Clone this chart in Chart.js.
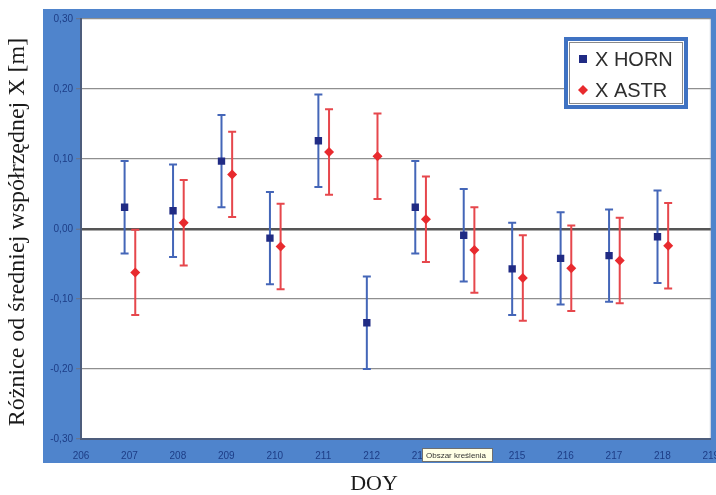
<!DOCTYPE html>
<html>
<head>
<meta charset="utf-8">
<script src="https://cdn.jsdelivr.net/npm/chart.js@4/dist/chart.umd.min.js"></script>
<style>
  html, body { margin: 0; padding: 0; background: #ffffff; }
  #wrap { width: 716px; height: 495px; }
</style>
</head>
<body>
<div id="wrap"><canvas id="c" width="716" height="495"></canvas></div>
<script>
// Day of year for each observation session
const doy = [207, 208, 209, 210, 211, 212, 213, 214, 215, 216, 217, 218];

// Differences from the mean X coordinate [m]
const hornValues = [0.031, 0.026, 0.097, -0.013, 0.126, -0.134, 0.031, -0.009, -0.057, -0.042, -0.038, -0.011];
const hornErrors = [0.066, 0.066, 0.066, 0.066, 0.066, 0.066, 0.066, 0.066, 0.066, 0.066, 0.066, 0.066];

const astrValues = [-0.062, 0.009, 0.078, -0.025, 0.110, 0.104, 0.014, -0.030, -0.070, -0.056, -0.045, -0.024];
const astrErrors = [0.061, 0.061, 0.061, 0.061, 0.061, 0.061, 0.061, 0.061, 0.061, 0.061, 0.061, 0.061];

// Axis ticks
const xTicks = [206, 207, 208, 209, 210, 211, 212, 213, 214, 215, 216, 217, 218, 219];
const yTicks = [0.30, 0.20, 0.10, 0.00, -0.10, -0.20, -0.30];

const seriesNames = ['X HORN', 'X ASTR'];
const xTitle = 'DOY';
const yTitle = 'Różnice od średniej współrzędnej X [m]';
const hoverNote = 'Obszar kreślenia';

// the two series are drawn slightly apart on each day
const HORN_SHIFT = -0.1;
const ASTR_SHIFT = 0.12;

const FRAME_BLUE = '#4f84cc';
const TICK_TEXT = '#1d3d86';

function points(values, errors, shift) {
  return values.map((v, i) => ({ x: doy[i] + shift, y: v, err: errors[i] }));
}

// Blue frame, white plotting area, axis titles
const framePlugin = {
  id: 'frame',
  beforeDraw(chart) {
    const { ctx, chartArea: a } = chart;
    ctx.save();
    ctx.fillStyle = FRAME_BLUE;
    ctx.fillRect(43, 9, chart.width - 43, 454);
    ctx.fillStyle = '#ffffff';
    ctx.fillRect(a.left, a.top, a.right - a.left, a.bottom - a.top);
    ctx.strokeStyle = '#c8cfdc';
    ctx.lineWidth = 1;
    ctx.beginPath();
    ctx.moveTo(a.right - 0.5, a.top);
    ctx.lineTo(a.right - 0.5, a.bottom);
    ctx.stroke();
    ctx.restore();
  },
  afterDraw(chart) {
    const { ctx } = chart;
    ctx.save();
    ctx.fillStyle = '#1a1a1a';
    ctx.textAlign = 'center';
    ctx.textBaseline = 'middle';
    ctx.font = '22px "Liberation Serif", "DejaVu Serif", serif';
    ctx.fillText(xTitle, 374, 484);
    ctx.font = '24px "Liberation Serif", "DejaVu Serif", serif';
    ctx.translate(18, 232);
    ctx.rotate(-Math.PI / 2);
    ctx.fillText(yTitle, 0, 0);
    ctx.restore();

    // small hover note box over the x labels
    ctx.save();
    const bx = 422, by = 448, bw = 71, bh = 14;
    ctx.fillStyle = '#ffffe6';
    ctx.fillRect(bx, by, bw, bh);
    ctx.strokeStyle = '#6f6f6f';
    ctx.lineWidth = 1;
    ctx.strokeRect(bx + 0.5, by + 0.5, bw - 1, bh - 1);
    ctx.fillStyle = '#333333';
    ctx.font = '8px "Liberation Sans", Arial, sans-serif';
    ctx.textAlign = 'left';
    ctx.textBaseline = 'middle';
    ctx.fillText(hoverNote, bx + 4, by + bh / 2 + 0.5);
    ctx.restore();
  }
};

// Vertical error bars with caps, drawn below the markers
const errorBarPlugin = {
  id: 'errorBars',
  beforeDatasetsDraw(chart) {
    const { ctx } = chart;
    const xs = chart.scales.x, ys = chart.scales.y;
    chart.data.datasets.forEach((ds) => {
      ctx.save();
      ctx.strokeStyle = ds.barColor;
      ctx.lineWidth = 2;
      ds.data.forEach((p) => {
        const px = xs.getPixelForValue(p.x);
        const top = ys.getPixelForValue(p.y + p.err);
        const bot = ys.getPixelForValue(p.y - p.err);
        ctx.beginPath();
        ctx.moveTo(px, top);
        ctx.lineTo(px, bot);
        ctx.moveTo(px - 4, top);
        ctx.lineTo(px + 4, top);
        ctx.moveTo(px - 4, bot);
        ctx.lineTo(px + 4, bot);
        ctx.stroke();
      });
      ctx.restore();
    });
  }
};

// Boxed legend in the upper right corner
const legendBoxPlugin = {
  id: 'legendBox',
  afterDatasetsDraw(chart) {
    const { ctx } = chart;
    ctx.save();
    ctx.fillStyle = '#3f72c2';
    ctx.fillRect(564, 37, 124, 72);
    ctx.fillStyle = '#ffffff';
    ctx.fillRect(568, 41, 116, 64);
    ctx.strokeStyle = '#8a8a8a';
    ctx.lineWidth = 1;
    ctx.strokeRect(569.5, 42.5, 113, 61);
    ctx.font = '20px "Liberation Sans", Arial, sans-serif';
    ctx.textBaseline = 'middle';
    const rows = [59, 90];
    chart.data.datasets.forEach((ds, i) => {
      const y = rows[i];
      ctx.fillStyle = ds.pointBackgroundColor;
      if (ds.pointStyle === 'rect') {
        ctx.fillRect(579, y - 4, 8, 8);
      } else {
        ctx.beginPath();
        ctx.moveTo(583, y - 5);
        ctx.lineTo(588, y);
        ctx.lineTo(583, y + 5);
        ctx.lineTo(578, y);
        ctx.closePath();
        ctx.fill();
      }
      ctx.fillStyle = '#2e2e2e';
      ctx.fillText(ds.label, 595, y + 1);
    });
    ctx.restore();
  }
};

const tickFont = { family: '"Liberation Sans", Arial, sans-serif', size: 10 };

new Chart(document.getElementById('c'), {
  type: 'scatter',
  data: {
    datasets: [
      {
        label: seriesNames[0],
        data: points(hornValues, hornErrors, HORN_SHIFT),
        pointStyle: 'rect',
        pointRadius: 5.2,
        pointBackgroundColor: '#202b84',
        pointBorderColor: '#202b84',
        pointBorderWidth: 0,
        barColor: '#4466b8'
      },
      {
        label: seriesNames[1],
        data: points(astrValues, astrErrors, ASTR_SHIFT),
        pointStyle: 'rectRot',
        pointRadius: 5,
        pointBackgroundColor: '#e82a2e',
        pointBorderColor: '#e82a2e',
        pointBorderWidth: 0,
        barColor: '#e6474c'
      }
    ]
  },
  options: {
    responsive: false,
    animation: false,
    events: [],
    layout: { padding: { left: 0, right: 5, top: 19, bottom: 0 } },
    plugins: {
      legend: { display: false },
      tooltip: { enabled: false },
      title: { display: false }
    },
    scales: {
      x: {
        type: 'linear',
        min: xTicks[0],
        max: xTicks[xTicks.length - 1],
        afterBuildTicks(scale) { scale.ticks = xTicks.map(v => ({ value: v })); },
        afterFit(scale) {
          scale.height = 56;
          scale.paddingLeft = 0;
          scale.paddingRight = 0;
        },
        grid: { display: false, drawTicks: false },
        border: { display: true, color: '#4d5d7c', width: 2 },
        ticks: {
          autoSkip: false,
          maxRotation: 0,
          padding: 11,
          color: TICK_TEXT,
          font: tickFont,
          callback: (v) => String(v)
        }
      },
      y: {
        min: -0.3,
        max: 0.3,
        afterBuildTicks(scale) { scale.ticks = yTicks.map(v => ({ value: v })); },
        afterFit(scale) {
          scale.width = 81;
          scale.paddingTop = 0;
          scale.paddingBottom = 0;
        },
        grid: {
          color: (c) => (c.tick && Math.abs(c.tick.value) < 1e-9) ? '#555555' : '#8f8f8f',
          lineWidth: (c) => (c.tick && Math.abs(c.tick.value) < 1e-9) ? 2.5 : 1.3,
          tickColor: '#6a7690',
          tickLength: 5,
          tickWidth: 1.3
        },
        border: { display: true, color: '#4d5d7c', width: 2 },
        ticks: {
          padding: 3,
          color: TICK_TEXT,
          font: tickFont,
          callback: (v) => v.toFixed(2).replace('.', ',')
        }
      }
    }
  },
  plugins: [framePlugin, errorBarPlugin, legendBoxPlugin]
});
</script>
</body>
</html>
